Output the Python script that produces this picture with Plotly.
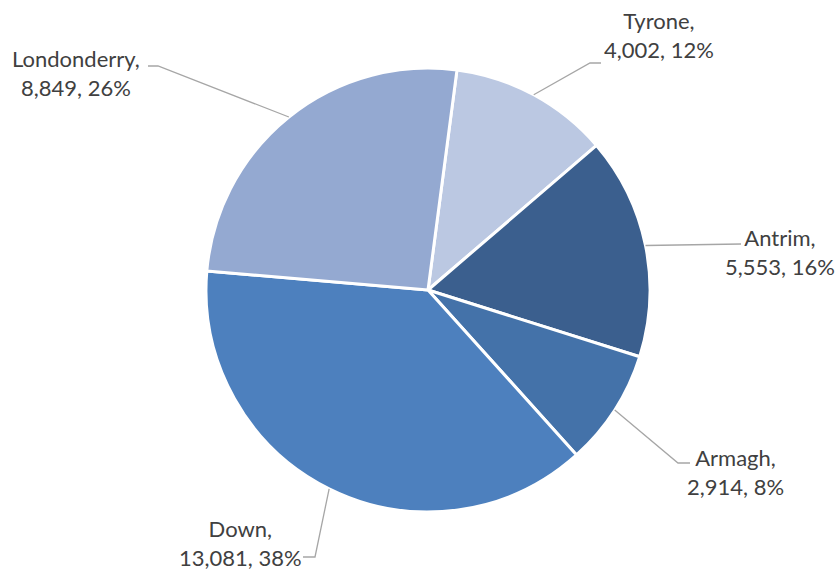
import math
import plotly.graph_objects as go

categories = ["Tyrone", "Antrim", "Armagh", "Down", "Londonderry"]
values = [4002, 5553, 2914, 13081, 8849]
colors = ["#BBC8E2", "#3B5F8E", "#4472A9", "#4D80BE", "#94A9D1"]

W, H = 836, 572
CX, CY, R = 428, 290, 222
ROT = 7.5

# label text centre (px), elbow point (px) and line end (px) per category
label_pos = {
    "Tyrone": (659, 35, (590, 63), (601, 63)),
    "Antrim": (780, 252, None, (741, 244)),
    "Armagh": (735, 472, (678, 463), (690, 463)),
    "Down": (240, 543, (315, 557), (303, 557)),
    "Londonderry": (76, 73, (158, 66), (148, 66)),
}

total = sum(values)

fig = go.Figure(go.Pie(
    labels=categories, values=values, sort=False, direction="clockwise",
    rotation=ROT, textinfo="none", hoverinfo="label+value+percent",
    marker=dict(colors=colors, line=dict(color="white", width=3)),
    domain=dict(x=[(CX - R) / W, (CX + R) / W], y=[1 - (CY + R) / H, 1 - (CY - R) / H]),
    showlegend=False,
))

def px2paper(x, y):
    return x / W, 1 - y / H

annotations = []
shapes = []
cum = 0
for cat, v in zip(categories, values):
    mid = ROT + (cum + v / 2) / total * 360
    cum += v
    a = math.radians(mid)
    ex, ey = CX + R * math.sin(a), CY - R * math.cos(a)
    tx, ty, elbow, end = label_pos[cat]
    pct = round(v / total * 100)
    annotations.append(dict(
        x=tx / W, y=1 - ty / H, xref="paper", yref="paper",
        text=f"{cat},<br>{v:,}, {pct}%", showarrow=False,
        font=dict(family="Lato, 'Open Sans', sans-serif", size=22, color="#404040"),
        align="center", xanchor="center", yanchor="middle",
    ))
    pts = [(ex, ey)] + ([elbow] if elbow else []) + [end]
    path = "M " + " L ".join(f"{px2paper(*p)[0]},{px2paper(*p)[1]}" for p in pts)
    shapes.append(dict(type="path", path=path, xref="paper", yref="paper",
                       line=dict(color="#A6A6A6", width=1.3)))

fig.update_layout(
    width=W, height=H, margin=dict(l=0, r=0, t=0, b=0),
    paper_bgcolor="white", plot_bgcolor="white",
    annotations=annotations, shapes=shapes,
)
fig.write_html("out.html")
